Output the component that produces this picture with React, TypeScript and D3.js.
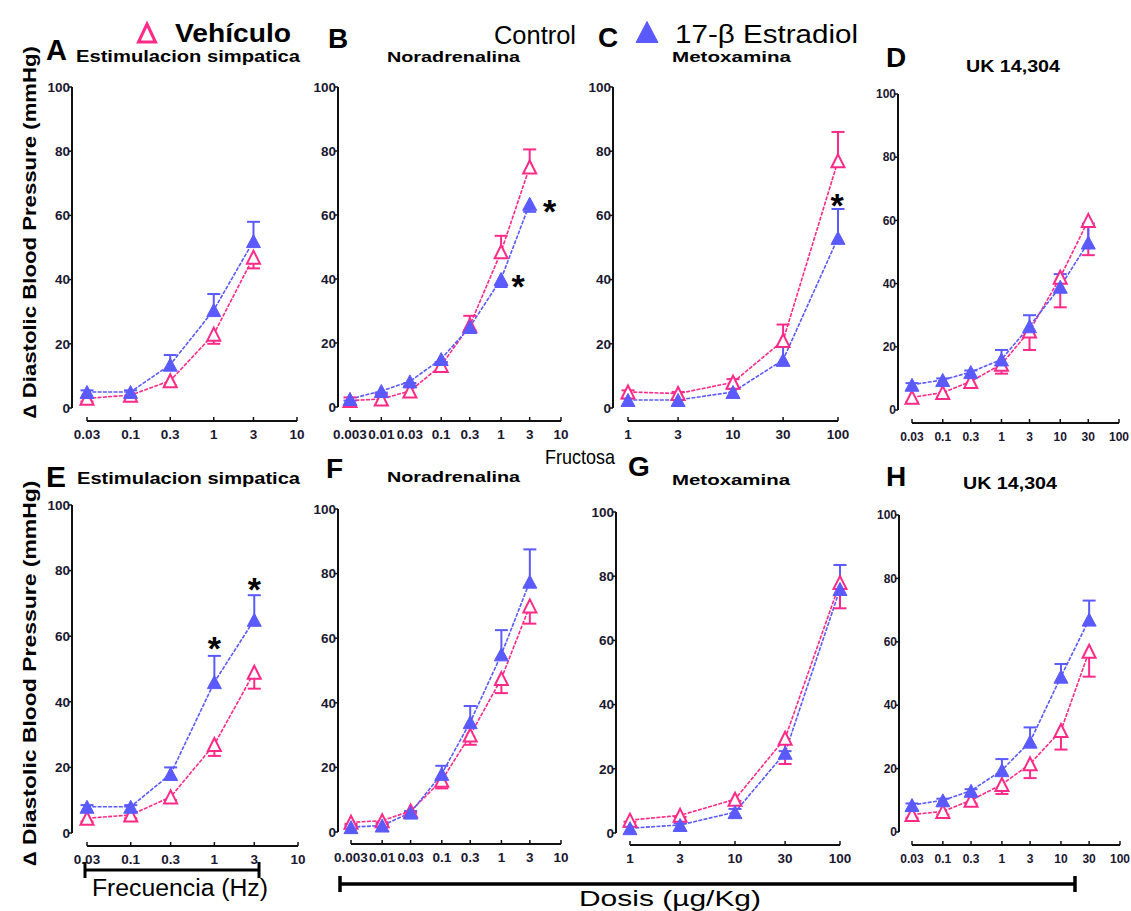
import React from 'react';
import * as d3 from 'd3';

const PINK = '#ff2a88';
const BLUE = '#5a5aff';
const INK = '#111';

// ---------- axis ticks / labels ----------
const yTicks = [0, 20, 40, 60, 80, 100];
const dosesFreq = [0.03, 0.1, 0.3, 1, 3];
const ticksFreq = [0.03, 0.1, 0.3, 1, 3, 10];
const labelsFreq = ['0.03', '0.1', '0.3', '1', '3', '10'];
const dosesNA = [0.003, 0.01, 0.03, 0.1, 0.3, 1, 3];
const ticksNA = [0.003, 0.01, 0.03, 0.1, 0.3, 1, 3, 10];
const labelsNA = ['0.003', '0.01', '0.03', '0.1', '0.3', '1', '3', '10'];
const dosesMet = [1, 3, 10, 30, 100];
const ticksMet = [1, 3, 10, 30, 100];
const labelsMet = ['1', '3', '10', '30', '100'];
const dosesUK = [0.03, 0.1, 0.3, 1, 3, 10, 30];
const ticksUK = [0.03, 0.1, 0.3, 1, 3, 10, 30, 100];
const labelsUK = ['0.03', '0.1', '0.3', '1', '3', '10', '30', '100'];

// ---------- Control ----------
const vehA = [3, 4, 8.5, 23, 47];
const vehErrA = [1, 0.5, 1.5, 3, 3.5];
const estA = [5, 5, 13.5, 30.5, 52];
const estErrA = [0.5, 0.5, 3, 5, 6];

const vehB = [2, 2.5, 5, 13, 25.5, 48.5, 75];
const vehErrB = [1, 1.5, 1.5, 1, 3, 5, 5.5];
const estB = [2.5, 5, 8, 15, 25, 40, 63.5];
const estErrB = [0.5, 0.5, 0.5, 1, 1, 2.5, 2.5];

const vehC = [5, 4.5, 8, 21, 77];
const vehErrC = [0.5, 0.5, 1, 5, 9];
const estC = [2.5, 2.5, 5, 15, 53];
const estErrC = [0.5, 0.5, 1, 4.5, 9];

const vehD = [4, 5.5, 9, 14.5, 25, 42, 60];
const vehErrD = [1.5, 1.5, 2, 3, 6, 9.5, 11];
const estD = [8, 9.5, 12, 16, 26.5, 39, 53];
const estErrD = [0.5, 0.5, 0.5, 3, 3.5, 4, 6];

// ---------- Fructosa ----------
const vehE = [4.5, 5.5, 11, 27, 49];
const vehErrE = [1, 1, 1, 3.5, 5];
const estE = [8, 8, 18, 46, 65];
const estErrE = [0.5, 0.5, 2, 8, 7.5];

const vehF = [3, 3.5, 6.5, 16, 30, 47.5, 70];
const vehErrF = [0.5, 0.5, 0.5, 2.5, 3, 4.5, 5.5];
const estF = [1.5, 2, 6, 18, 34, 55, 77.5];
const estErrF = [0.5, 0.5, 0.5, 2.5, 5, 7.5, 10];

const vehG = [4, 5.5, 10.5, 29.5, 78];
const vehErrG = [0.5, 0.5, 0.5, 8, 8];
const estG = [1.5, 2.5, 6.5, 25, 76];
const estErrG = [0.5, 0.5, 1, 0.5, 7.5];

const vehH = [5.5, 6.5, 10, 15, 21.5, 32, 57];
const vehErrH = [1, 1, 1, 3, 4.5, 6, 8];
const estH = [8.5, 10, 13, 19.5, 28.5, 49, 67];
const estErrH = [0.5, 0.5, 0.5, 3.5, 4.5, 4, 6];

// significance marks: dose, value (asterisk centre), pixel offset x
const starsB = [{ dose: 1, value: 40, dx: 17 }, { dose: 3, value: 63.5, dx: 20 }];
const starsC = [{ dose: 100, value: 65.5, dx: -1 }];
const starsE = [{ dose: 1, value: 58.5, dx: 0 }, { dose: 3, value: 76.5, dx: 0 }];

const FONT = '"Liberation Sans", Arial, sans-serif';

const tri = (w: number, h: number) => `M0,${-h / 2}L${w / 2},${h / 2}L${-w / 2},${h / 2}Z`;

type Lay = { axX: number; y100: number; y0: number; xAxY: number; x0: number; x1: number };

function Panel(props: {
  lay: Lay; doses: number[]; ticks: number[]; labels: string[];
  veh: number[]; vehErr: number[]; vehDir: number;
  est: number[]; estErr: number[]; estDir: number;
  stars?: { dose: number; value: number; dx: number }[]; fs: number;
}) {
  const { lay, doses, ticks, labels, veh, vehErr, vehDir, est, estErr, estDir, stars, fs } = props;
  const x = d3.scaleLog().domain([ticks[0], ticks[ticks.length - 1]]).range([lay.x0, lay.x1]);
  const y = d3.scaleLinear().domain([0, 100]).range([lay.y0, lay.y100]);
  const line = d3.line<number>().x((_, i) => x(doses[i])).y((d) => y(d));
  const errBars = (vals: number[], errs: number[], dir: number, color: string, key: string) =>
    vals.map((v, i) => {
      const cx = x(doses[i]);
      const ye = y(v + dir * errs[i]);
      return (
        <g key={key + i} stroke={color} strokeWidth={2}>
          <line x1={cx} x2={cx} y1={y(v)} y2={ye} />
          <line x1={cx - 6.5} x2={cx + 6.5} y1={ye} y2={ye} />
        </g>
      );
    });
  return (
    <g fontFamily={FONT}>
      {/* y axis */}
      <line x1={lay.axX} x2={lay.axX} y1={y(100)} y2={y(0)} stroke={INK} strokeWidth={2} />
      {yTicks.map((t) => (
        <g key={'yt' + t}>
          <line x1={lay.axX - 3} x2={lay.axX} y1={y(t)} y2={y(t)} stroke={INK} strokeWidth={1.5} />
          <text x={lay.axX - 2} y={y(t)} dy="0.35em" textAnchor="end" fontSize={fs} fontWeight="bold" fill="#1a1830">{t}</text>
        </g>
      ))}
      {/* x axis */}
      <line x1={x(ticks[0])} x2={x(ticks[ticks.length - 1])} y1={lay.xAxY} y2={lay.xAxY} stroke={INK} strokeWidth={2} />
      {ticks.map((t, i) => (
        <g key={'xt' + t}>
          <line x1={x(t)} x2={x(t)} y1={lay.xAxY - 4} y2={lay.xAxY} stroke={INK} strokeWidth={1.5} />
          <text x={x(t)} y={lay.xAxY + 18} textAnchor="middle" fontSize={fs} fontWeight="bold" fill="#1a1830">{labels[i]}</text>
        </g>
      ))}
      {/* lines */}
      <path d={line(veh) || ''} fill="none" stroke={PINK} strokeWidth={1.6} strokeDasharray="4 1.3" />
      <path d={line(est) || ''} fill="none" stroke={BLUE} strokeWidth={1.6} strokeDasharray="4 1.3" />
      {errBars(veh, vehErr, vehDir, PINK, 'ev')}
      {errBars(est, estErr, estDir, BLUE, 'ee')}
      {veh.map((v, i) => (
        <path key={'mv' + i} d={tri(13, 13)} transform={`translate(${x(doses[i])},${y(v)})`} fill="#fff" stroke={PINK} strokeWidth={2} />
      ))}
      {est.map((v, i) => (
        <path key={'me' + i} d={tri(14, 13)} transform={`translate(${x(doses[i])},${y(v)})`} fill={BLUE} stroke={BLUE} strokeWidth={1} />
      ))}
      {(stars || []).map((s, i) => (
        <text key={'st' + i} x={x(s.dose) + s.dx} y={y(s.value) + 19} textAnchor="middle" fontSize={34} fontWeight="bold" fill="#000">*</text>
      ))}
    </g>
  );
}

const layA: Lay = { axX: 72, y100: 87, y0: 408, xAxY: 421, x0: 87, x1: 297 };
const layB: Lay = { axX: 338, y100: 87, y0: 407, xAxY: 421, x0: 350, x1: 561 };
const layC: Lay = { axX: 613, y100: 87, y0: 408, xAxY: 421, x0: 628, x1: 838 };
const layD: Lay = { axX: 898, y100: 94, y0: 410, xAxY: 423, x0: 912, x1: 1119 };
const layE: Lay = { axX: 72, y100: 505, y0: 833, xAxY: 846, x0: 87, x1: 298 };
const layF: Lay = { axX: 338, y100: 509, y0: 832, xAxY: 844, x0: 351, x1: 561 };
const layG: Lay = { axX: 616, y100: 512, y0: 833, xAxY: 845, x0: 630, x1: 840 };
const layH: Lay = { axX: 899, y100: 515, y0: 832, xAxY: 845, x0: 912, x1: 1120 };

function Label(p: { x: number; y: number; text: string; size: number; bold?: boolean; len?: number; anchor?: string }) {
  return (
    <text x={p.x} y={p.y} fontSize={p.size} fontWeight={p.bold ? 'bold' : 'normal'} fontFamily={FONT}
      textAnchor={p.anchor || 'start'} fill="#000"
      {...(p.len ? { textLength: p.len, lengthAdjust: 'spacingAndGlyphs' } : {})}>{p.text}</text>
  );
}

export default function App() {
  return (
    <svg width={1131} height={911} style={{ position: 'absolute', left: 0, top: 0, background: '#fff' }}>
      <rect width={1131} height={911} fill="#fff" />
      {/* legend / headers */}
      <path d={tri(17, 18)} transform="translate(147,33)" fill="#fff" stroke={PINK} strokeWidth={3} />
      <Label x={175} y={42} text="Vehículo" size={26} bold len={116} />
      <Label x={494} y={44} text="Control" size={25} len={82} />
      <path d={tri(22, 21)} transform="translate(647,32)" fill={BLUE} stroke={BLUE} />
      <Label x={675} y={43} text="17-β Estradiol" size={26} len={183} />
      <Label x={545} y={464} text="Fructosa" size={21} len={70} />

      {/* panel letters */}
      <Label x={46} y={60} text="A" size={29} bold />
      <Label x={328} y={48} text="B" size={28} bold />
      <Label x={598} y={47} text="C" size={28} bold />
      <Label x={886} y={67} text="D" size={28} bold />
      <Label x={46} y={487} text="E" size={30} bold />
      <Label x={326} y={478} text="F" size={28} bold />
      <Label x={628} y={476} text="G" size={28} bold />
      <Label x={886} y={486} text="H" size={28} bold />

      {/* subtitles */}
      <Label x={76} y={62} text="Estimulacion simpatica" size={16} bold len={224} />
      <Label x={387} y={62} text="Noradrenalina" size={15} bold len={133} />
      <Label x={672} y={62} text="Metoxamina" size={15} bold len={119} />
      <Label x={966} y={72} text="UK 14,304" size={16} bold len={94} />
      <Label x={77} y={484} text="Estimulacion simpatica" size={16} bold len={223} />
      <Label x={387} y={482} text="Noradrenalina" size={15} bold len={133} />
      <Label x={672} y={485} text="Metoxamina" size={15} bold len={118} />
      <Label x={963} y={489} text="UK 14,304" size={16} bold len={94} />

      {/* y titles */}
      <text transform="translate(36,232) rotate(-90)" textAnchor="middle" fontSize={18} fontWeight="bold" fontFamily={FONT}
        textLength={372} lengthAdjust="spacingAndGlyphs">∆ Diastolic Blood Pressure (mmHg)</text>
      <text transform="translate(36,673) rotate(-90)" textAnchor="middle" fontSize={18} fontWeight="bold" fontFamily={FONT}
        textLength={385} lengthAdjust="spacingAndGlyphs">∆ Diastolic Blood Pressure (mmHg)</text>

      <Panel lay={layA} doses={dosesFreq} ticks={ticksFreq} labels={labelsFreq} veh={vehA} vehErr={vehErrA} vehDir={-1} est={estA} estErr={estErrA} estDir={1} fs={13.5} />
      <Panel lay={layB} doses={dosesNA} ticks={ticksNA} labels={labelsNA} veh={vehB} vehErr={vehErrB} vehDir={1} est={estB} estErr={estErrB} estDir={-1} stars={starsB} fs={13.5} />
      <Panel lay={layC} doses={dosesMet} ticks={ticksMet} labels={labelsMet} veh={vehC} vehErr={vehErrC} vehDir={1} est={estC} estErr={estErrC} estDir={1} stars={starsC} fs={13.5} />
      <Panel lay={layD} doses={dosesUK} ticks={ticksUK} labels={labelsUK} veh={vehD} vehErr={vehErrD} vehDir={-1} est={estD} estErr={estErrD} estDir={1} fs={12} />
      <Panel lay={layE} doses={dosesFreq} ticks={ticksFreq} labels={labelsFreq} veh={vehE} vehErr={vehErrE} vehDir={-1} est={estE} estErr={estErrE} estDir={1} stars={starsE} fs={13.5} />
      <Panel lay={layF} doses={dosesNA} ticks={ticksNA} labels={labelsNA} veh={vehF} vehErr={vehErrF} vehDir={-1} est={estF} estErr={estErrF} estDir={1} fs={13.5} />
      <Panel lay={layG} doses={dosesMet} ticks={ticksMet} labels={labelsMet} veh={vehG} vehErr={vehErrG} vehDir={-1} est={estG} estErr={estErrG} estDir={1} fs={13.5} />
      <Panel lay={layH} doses={dosesUK} ticks={ticksUK} labels={labelsUK} veh={vehH} vehErr={vehErrH} vehDir={-1} est={estH} estErr={estErrH} estDir={1} fs={12} />

      {/* Frecuencia bracket */}
      <g stroke="#000" strokeWidth={3}>
        <line x1={85} x2={259} y1={870} y2={870} />
        <line x1={85} x2={85} y1={862} y2={878} />
        <line x1={259} x2={259} y1={862} y2={878} />
      </g>
      <Label x={92} y={896} text="Frecuencia (Hz)" size={23} len={176} />

      {/* Dosis bracket */}
      <g stroke="#000" strokeWidth={3.5}>
        <line x1={340} x2={1075} y1={884} y2={884} />
        <line x1={340} x2={340} y1={876} y2={892} />
        <line x1={1075} x2={1075} y1={876} y2={892} />
      </g>
      <Label x={670} y={906} text="Dosis (µg/Kg)" size={22} len={182} anchor="middle" />
    </svg>
  );
}
